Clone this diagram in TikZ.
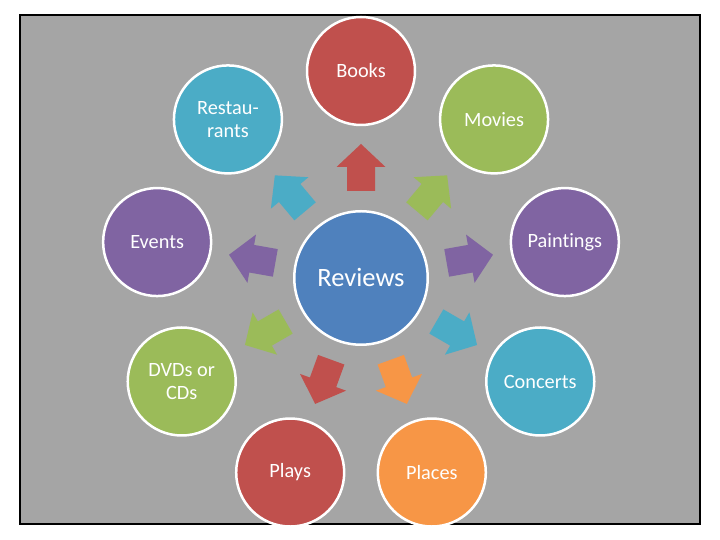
\documentclass[tikz,border=0pt]{standalone}
\usepackage{fontspec}
\setmainfont{Carlito}[Ligatures=NoCommon]
\definecolor{cred}{HTML}{C0504D}
\definecolor{cgreen}{HTML}{9BBB59}
\definecolor{cpurple}{HTML}{8064A2}
\definecolor{cteal}{HTML}{4BACC6}
\definecolor{corange}{HTML}{F79646}
\definecolor{cblue}{HTML}{4F81BD}
\definecolor{cgray}{HTML}{A5A5A5}
\begin{document}
\begin{tikzpicture}[x=1pt,y=1pt,
  outer/.style={circle,draw=white,line width=2.5pt,minimum size=108pt,inner sep=0pt,
    text=white,align=center,font=\fontsize{20.3}{23}\selectfont},
  hub/.style={circle,draw=white,line width=2.5pt,minimum size=133.5pt,inner sep=0pt,
    text=white,font=\fontsize{26.5}{30}\selectfont,fill=cblue}]
\useasboundingbox (0,0) rectangle (720,540);
\draw[line width=2.2pt,fill=cgray] (20,16) rectangle (700,525);
\coordinate (c) at (361,262);
\node[hub] (reviews) at (c) {\raisebox{2pt}{Reviews}};
\foreach \ang/\col/\nm/\txt in {
  90/cred/books/Books,
  50/cgreen/movies/Movies,
  10/cpurple/paintings/Paintings,
  -30/cteal/concerts/Concerts,
  -70/corange/places/Places,
  -110/cred/plays/Plays,
  -150/cgreen/dvds/{DVDs or\\CDs},
  170/cpurple/events/Events,
  130/cteal/restaurants/{Restau-\\rants}}{
  \node[outer,fill=\col] (\nm) at ([shift={(\ang:207)}]c) {\txt};
  \begin{scope}[shift={(c)},rotate=\ang]
    \fill[\col] (87,-14) -- (111,-14) -- (111,-24.5) -- (134,0) -- (111,24.5)
      -- (111,14) -- (87,14) -- cycle;
  \end{scope}
}
\end{tikzpicture}
\end{document}
